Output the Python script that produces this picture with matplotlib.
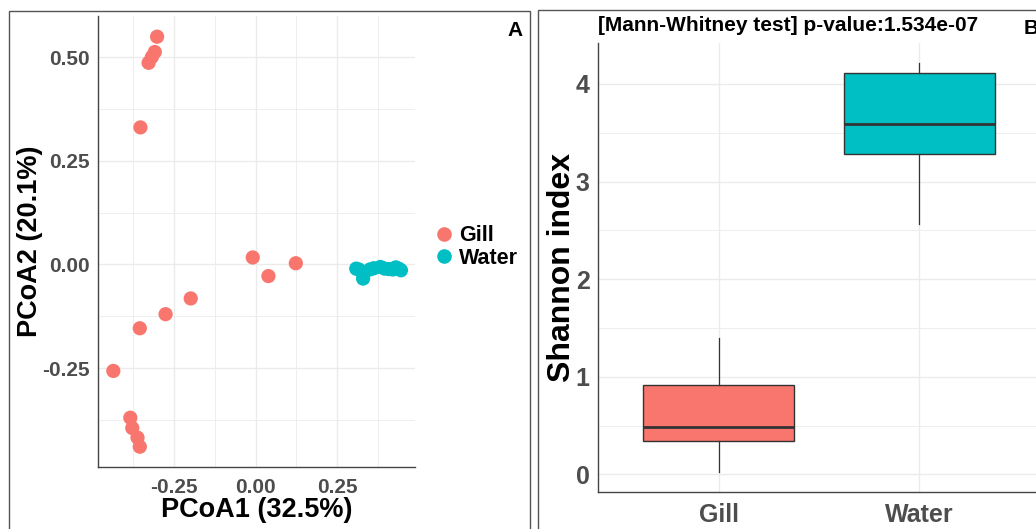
#!/usr/bin/env python
# -*- coding: utf-8 -*-
"""
鳃与水体微生物群落：PCoA 散点图 (A) + Shannon 指数箱线图 (B)
"""

import matplotlib
matplotlib.use('Agg')
import matplotlib.pyplot as plt
from matplotlib.patches import Rectangle
from matplotlib.lines import Line2D
from matplotlib.ticker import MultipleLocator, NullLocator

plt.rcParams['font.family'] = ['Liberation Sans', 'DejaVu Sans']
plt.rcParams['font.weight'] = 'bold'

# ---------------- 数据 ----------------
groups = ['Gill', 'Water']
group_colors = ['#F8766D', '#00BFC4']

# PCoA 坐标
gill_x = [-0.302, -0.309, -0.318, -0.328, -0.353, -0.009, 0.039, 0.123,
          -0.199, -0.276, -0.355, -0.436, -0.384, -0.378, -0.362, -0.355]
gill_y = [0.550, 0.513, 0.501, 0.487, 0.331, 0.017, -0.028, 0.003,
          -0.082, -0.120, -0.154, -0.257, -0.370, -0.395, -0.418, -0.440]
water_x = [0.308, 0.316, 0.329, 0.350, 0.362, 0.382, 0.395, 0.408,
           0.420, 0.429, 0.438, 0.445]
water_y = [-0.010, -0.012, -0.034, -0.012, -0.009, -0.006, -0.010, -0.011,
           -0.012, -0.007, -0.010, -0.014]

pcoa1_pct = 32.5
pcoa2_pct = 20.1

# Shannon 箱线图统计量
box_whislo = [0.024, 2.569]
box_q1 = [0.345, 3.283]
box_med = [0.490, 3.593]
box_q3 = [0.921, 4.117]
box_whishi = [1.397, 4.214]
p_value = '1.534e-07'

W, H = 1036, 529
TICK_GRAY = '#4D4D4D'
GRID = '#EBEBEB'
SPINE = '#444444'


def px_axes(fig, left, top, right, bottom):
    """按像素位置创建坐标轴"""
    return fig.add_axes([left / W, 1 - bottom / H, (right - left) / W, (bottom - top) / H])


def style_axes(ax, tick_size):
    ax.set_facecolor('white')
    for side in ['top', 'right']:
        ax.spines[side].set_visible(False)
    for side in ['left', 'bottom']:
        ax.spines[side].set_color(SPINE)
        ax.spines[side].set_linewidth(1.0)
    ax.tick_params(which='both', length=0, labelsize=tick_size, labelcolor=TICK_GRAY)
    ax.tick_params(axis='y', pad=6)
    ax.tick_params(axis='x', pad=8)
    ax.grid(True, which='major', color=GRID, linewidth=1.0)
    ax.grid(True, which='minor', color=GRID, linewidth=0.6)
    ax.set_axisbelow(True)
    for lab in ax.get_xticklabels() + ax.get_yticklabels():
        lab.set_fontweight('bold')


fig = plt.figure(figsize=(W / 100, H / 100), dpi=100)

# 两个面板的外边框
fig.add_artist(Rectangle((9 / W, -0.05), (530 - 9) / W, 1.05 - 11 / H,
                         transform=fig.transFigure, fill=False,
                         edgecolor='#555555', linewidth=1.0))
fig.add_artist(Rectangle((538 / W, -0.05), 0.6, 1.05 - 10 / H,
                         transform=fig.transFigure, fill=False,
                         edgecolor='#555555', linewidth=1.0))

# ---------------- A: PCoA ----------------
ax1 = px_axes(fig, 98, 16, 415, 467)
ax1.scatter(gill_x, gill_y, s=105, c=group_colors[0], edgecolors='none', zorder=3)
ax1.scatter(water_x, water_y, s=105, c=group_colors[1], edgecolors='none', zorder=3)
ax1.set_xlim(-0.483, 0.488)
ax1.set_ylim(-0.489, 0.600)
ax1.xaxis.set_minor_locator(MultipleLocator(0.125))
ax1.yaxis.set_minor_locator(MultipleLocator(0.125))
ax1.set_xticks([-0.25, 0.0, 0.25])
ax1.set_xticklabels(['-0.25', '0.00', '0.25'])
ax1.set_yticks([-0.25, 0.0, 0.25, 0.5])
ax1.set_yticklabels(['-0.25', '0.00', '0.25', '0.50'])
style_axes(ax1, 15)
ax1.set_xlabel(f'PCoA1 ({pcoa1_pct}%)', fontsize=19.5, fontweight='bold')
ax1.set_ylabel(f'PCoA2 ({pcoa2_pct}%)', fontsize=19.5, fontweight='bold')
ax1.xaxis.set_label_coords(0.5, -0.066)
ax1.yaxis.set_label_coords(-0.172, 0.5)

handles = [Line2D([0], [0], marker='o', linestyle='none', markersize=10.5,
                  markerfacecolor=c, markeredgecolor='none', label=g)
           for g, c in zip(groups, group_colors)]
fig.legend(handles=handles, loc='center left', bbox_to_anchor=(420 / W, 1 - 247 / H),
           frameon=False, handletextpad=0.1, labelspacing=0.05,
           handlelength=1.2, borderpad=0, prop={'weight': 'bold', 'size': 15.5})

fig.text(515 / W, 1 - 31 / H, 'A', fontsize=15, fontweight='bold', ha='center', va='center')

# ---------------- B: Shannon 箱线图 ----------------
ax2 = px_axes(fig, 598, 43, 1040, 492)
stats = []
for i, g in enumerate(groups):
    stats.append({'label': g, 'whislo': box_whislo[i], 'q1': box_q1[i], 'med': box_med[i],
                  'q3': box_q3[i], 'whishi': box_whishi[i], 'fliers': []})
bp = ax2.bxp(stats, positions=[1, 2], widths=0.75, patch_artist=True, showcaps=False,
             showfliers=False,
             boxprops=dict(edgecolor='#333333', linewidth=1.0),
             medianprops=dict(color='#333333', linewidth=2.0),
             whiskerprops=dict(color='#333333', linewidth=0.9))
for patch, c in zip(bp['boxes'], group_colors):
    patch.set_facecolor(c)
    patch.set_zorder(2)

ax2.set_xlim(0.4, 2.6)
ax2.set_ylim(-0.18, 4.42)
ax2.set_xticks([1, 2])
ax2.set_xticklabels(groups)
ax2.xaxis.set_minor_locator(NullLocator())
ax2.set_yticks([0, 1, 2, 3, 4])
ax2.yaxis.set_minor_locator(MultipleLocator(0.5))
style_axes(ax2, 18)
ax2.set_ylabel('Shannon index', fontsize=23, fontweight='bold')
ax2.yaxis.set_label_coords(-0.048, 0.5)
ax2.text(0.0, 1.04, f'[Mann-Whitney test] p-value:{p_value}', transform=ax2.transAxes,
         fontsize=15, fontweight='bold', ha='left', va='center')

fig.text(1024 / W, 1 - 28 / H, 'B', fontsize=15, fontweight='bold', ha='left', va='center')

fig.savefig('out.png', dpi=100, facecolor='white')
